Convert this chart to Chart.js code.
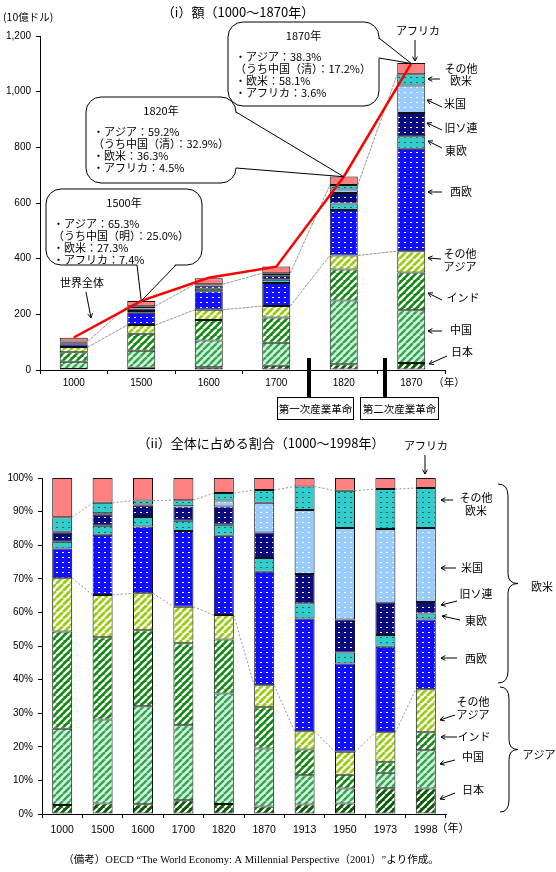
<!DOCTYPE html>
<html>
<head>
<meta charset="utf-8">
<script src="https://cdn.jsdelivr.net/npm/chart.js@4.4.0/dist/chart.umd.min.js"></script>
<style>
html, body { margin: 0; padding: 0; background: #fff; width: 556px; height: 872px; overflow: hidden; }
canvas { position: absolute; left: 0; }
#amountChart { top: 0; }
#shareChart { top: 430px; }
</style>
</head>
<body>
<canvas id="amountChart" width="556" height="425"></canvas>
<canvas id="shareChart" width="556" height="442"></canvas>
<script>
// ---- data ----
const yearsAmount = ['1000', '1500', '1600', '1700', '1820', '1870'];
const yearsShare = ['1000', '1500', '1600', '1700', '1820', '1870', '1913', '1950', '1973', '1998'];
const seriesNames = ['日本', '中国', 'インド', 'その他アジア', '西欧', '東欧', '旧ソ連', '米国', 'その他欧米', 'アフリカ'];

// (i) 額 (10億ドル)
const amtJapan      = [3.2, 7.7, 9.6, 15.4, 20.7, 25.4];
const amtChina      = [26.6, 61.8, 96.0, 82.8, 228.6, 189.7];
const amtIndia      = [33.8, 60.5, 74.3, 90.8, 111.4, 134.9];
const amtOtherAsia  = [18.6, 31.3, 36.7, 40.6, 50.7, 77.0];
const amtWEurope    = [10.2, 44.3, 66.0, 83.4, 163.7, 367.6];
const amtEEurope    = [2.0, 6.7, 9.3, 11.4, 23.1, 45.4];
const amtUssr       = [2.8, 8.5, 11.4, 16.2, 37.7, 83.6];
const amtUsa        = [0.5, 0.8, 0.6, 0.5, 12.5, 98.4];
const amtOtherWest  = [4.9, 7.6, 4.1, 6.6, 15.9, 40.5];
const amtAfrica     = [13.7, 18.4, 22.0, 24.4, 31.2, 40.2];
const amtWorld      = [116.8, 248.3, 331.3, 371.4, 694.4, 1101.4];

// (ii) 全体に占める割合 (%)
const shrJapan      = [2.7, 3.1, 2.9, 4.1, 3.0, 2.2, 2.8, 3.1, 7.7, 7.6];
const shrChina      = [22.7, 25.0, 29.2, 22.3, 32.9, 17.3, 8.7, 4.5, 4.6, 11.4];
const shrIndia      = [28.9, 24.5, 22.6, 24.4, 16.0, 12.3, 7.7, 4.1, 3.1, 5.3];
const shrOtherAsia  = [15.9, 12.6, 11.0, 10.9, 7.3, 6.5, 5.4, 6.8, 8.9, 12.8];
const shrWEurope    = [8.8, 17.9, 19.9, 22.5, 23.6, 33.8, 33.6, 26.3, 25.5, 20.8];
const shrEEurope    = [2.0, 2.7, 2.8, 3.1, 3.3, 4.1, 4.5, 3.3, 3.5, 1.8];
const shrUssr       = [2.7, 3.4, 3.5, 4.2, 5.4, 7.6, 8.7, 9.8, 9.6, 3.4];
const shrUsa        = [0.3, 0.3, 0.2, 0.1, 1.8, 8.8, 19.1, 27.2, 21.9, 22.0];
const shrOtherWest  = [4.3, 3.1, 1.2, 1.8, 2.2, 3.8, 7.0, 11.1, 11.9, 11.9];
const shrAfrica     = [11.7, 7.4, 6.7, 6.6, 4.5, 3.6, 2.5, 3.8, 3.3, 3.0];

const FONT_JP = '"Noto Sans CJK JP", "Noto Sans", sans-serif';
const FONT_NUM = '"Liberation Sans", Arial, sans-serif';
const FONT_SERIF = '"Liberation Serif", "Noto Sans CJK JP", serif';

// ---- fill patterns ----
function stripes(bg, fg, lw) {
  const s = 7;
  const c = document.createElement('canvas');
  c.width = s; c.height = s;
  const x = c.getContext('2d');
  x.fillStyle = bg;
  x.fillRect(0, 0, s, s);
  x.strokeStyle = fg;
  x.lineWidth = lw;
  x.beginPath();
  for (const o of [-s, 0, s]) { x.moveTo(o, s); x.lineTo(o + s, 0); }
  x.stroke();
  return x.createPattern(c, 'repeat');
}
function dots(bg, fg) {
  const c = document.createElement('canvas');
  c.width = 6; c.height = 5;
  const x = c.getContext('2d');
  x.fillStyle = bg;
  x.fillRect(0, 0, 6, 5);
  x.fillStyle = fg;
  x.fillRect(2, 2, 2, 1);
  return x.createPattern(c, 'repeat');
}

const fills = [
  stripes('#0a5a0a', '#ffffff', 2),     // 日本
  stripes('#ccffcc', '#3c9c64', 2.4),   // 中国
  stripes('#108a10', '#ffffff', 2.4),   // インド
  stripes('#ffffff', '#9acd10', 2.8),   // その他アジア
  dots('#1010ff', '#ffffff'),           // 西欧
  dots('#33cccc', '#0a6060'),           // 東欧
  dots('#0a0a80', '#ffffff'),           // 旧ソ連
  dots('#99ccff', '#ffffff'),           // 米国
  dots('#33cccc', '#0a6060'),           // その他欧米
  '#ff8080'                             // アフリカ
];

function barSets(arrays, pct) {
  return arrays.map((data, i) => ({
    label: seriesNames[i],
    data: data,
    backgroundColor: fills[i],
    borderColor: '#111',
    borderWidth: 1,
    borderSkipped: false,
    stack: 'regions',
    categoryPercentage: 1,
    barPercentage: pct
  }));
}

// ---- helpers for notes ----
function txt(ctx, s, x, y, align, size, family) {
  ctx.font = (size || 11) + 'px ' + (family || FONT_JP);
  ctx.textAlign = align || 'center';
  ctx.textBaseline = 'middle';
  ctx.fillStyle = '#000';
  ctx.fillText(s, x, y);
}
function arrow(ctx, x0, y0, x1, y1) {
  const a = Math.atan2(y1 - y0, x1 - x0), L = 5;
  ctx.beginPath();
  ctx.moveTo(x0, y0);
  ctx.lineTo(x1, y1);
  ctx.moveTo(x1 - L * Math.cos(a - 0.5), y1 - L * Math.sin(a - 0.5));
  ctx.lineTo(x1, y1);
  ctx.lineTo(x1 - L * Math.cos(a + 0.5), y1 - L * Math.sin(a + 0.5));
  ctx.stroke();
}
function roundRectPath(ctx, x, y, w, h, r) {
  ctx.beginPath();
  ctx.moveTo(x + r, y);
  ctx.arcTo(x + w, y, x + w, y + h, r);
  ctx.arcTo(x + w, y + h, x, y + h, r);
  ctx.arcTo(x, y + h, x, y, r);
  ctx.arcTo(x, y, x + w, y, r);
  ctx.closePath();
}
function callout(ctx, box, b1, b2, inward, tip, title, lines) {
  ctx.save();
  ctx.strokeStyle = '#000';
  ctx.lineWidth = 1;
  ctx.fillStyle = '#fff';
  roundRectPath(ctx, box.x, box.y, box.w, box.h, 15);
  ctx.fill();
  ctx.stroke();
  ctx.beginPath();
  ctx.moveTo(b1[0] + inward[0], b1[1] + inward[1]);
  ctx.lineTo(tip.x, tip.y);
  ctx.lineTo(b2[0] + inward[0], b2[1] + inward[1]);
  ctx.closePath();
  ctx.fill();
  ctx.beginPath();
  ctx.moveTo(b1[0], b1[1]);
  ctx.lineTo(tip.x, tip.y);
  ctx.lineTo(b2[0], b2[1]);
  ctx.stroke();
  txt(ctx, title, box.x + box.w / 2, box.y + 14, 'center', 11);
  lines.forEach((s, i) => txt(ctx, s, box.x + 7, box.y + 35 + i * 12, 'left', 11));
  ctx.restore();
}
function brace(ctx, x, y0, y1, w) {
  const m = (y0 + y1) / 2, r = w / 2;
  ctx.beginPath();
  ctx.moveTo(x, y0);
  ctx.quadraticCurveTo(x + r, y0, x + r, y0 + 12);
  ctx.lineTo(x + r, m - 10);
  ctx.quadraticCurveTo(x + r, m, x + w, m);
  ctx.quadraticCurveTo(x + r, m, x + r, m + 10);
  ctx.lineTo(x + r, y1 - 12);
  ctx.quadraticCurveTo(x + r, y1, x, y1);
  ctx.stroke();
}

// dotted lines joining the Asia / Europe boundary and the Africa boundary
const linkPlugin = {
  id: 'links',
  beforeDatasetsDraw(chart, args, opts) {
    const ctx = chart.ctx;
    ctx.save();
    ctx.strokeStyle = opts.color;
    ctx.lineWidth = opts.width;
    ctx.setLineDash(opts.dash);
    for (const d of opts.datasets) {
      const els = chart.getDatasetMeta(d).data;
      ctx.beginPath();
      for (let i = 0; i < els.length - 1; i++) {
        const a = els[i], b = els[i + 1];
        ctx.moveTo(a.x + a.width / 2, a.y);
        ctx.lineTo(b.x - b.width / 2, b.y);
      }
      ctx.stroke();
    }
    ctx.restore();
  }
};

function scaleOpts(extra) {
  return Object.assign({
    stacked: true,
    grid: { drawOnChartArea: false, tickLength: 4, color: '#000' },
    border: { color: '#000', width: 1 }
  }, extra);
}

// ---- (i) 額 ----
const notesTop = {
  id: 'notesTop',
  afterDraw(chart) {
    const ctx = chart.ctx;
    const tot = chart.getDatasetMeta(10).data;
    ctx.save();
    ctx.strokeStyle = '#000';
    ctx.lineWidth = 1;
    txt(ctx, '（i）額（1000～1870年）', 238, 12, 'center', 13);
    txt(ctx, '(10億ドル)', 3, 17, 'left', 10.5);
    txt(ctx, '（年）', 449, 382, 'center', 10.5);

    callout(ctx, { x: 46, y: 189, w: 156, h: 76 }, [137, 265], [176, 265], [0, -1.5], tot[1],
      '1500年', ['・アジア：65.3%', '（うち中国（明）：25.0%）', '・欧米：27.3%', '・アフリカ：7.4%']);
    callout(ctx, { x: 86, y: 97, w: 150, h: 86 }, [236, 112], [236, 168], [-1.5, 0], tot[4],
      '1820年', ['・アジア：59.2%', '（うち中国（清）：32.9%）', '・欧米：36.3%', '・アフリカ：4.5%']);
    callout(ctx, { x: 228, y: 22, w: 151, h: 84 }, [379, 38], [379, 58], [-1.5, 0], tot[5],
      '1870年', ['・アジア：38.3%', '（うち中国（清）：17.2%）', '・欧米：58.1%', '・アフリカ：3.6%']);

    txt(ctx, '世界全体', 82, 283, 'center', 11);
    arrow(ctx, 86, 292, 91, 318);
    txt(ctx, 'アフリカ', 418, 31, 'center', 11);
    arrow(ctx, 415, 40, 415, 61);

    const right = [
      [['その他', '欧米'], 461, [69, 81], [440, 79, 428, 79]],
      [['米国'], 455, [104], [442, 107, 427, 100]],
      [['旧ソ連'], 461, [128], [442, 130, 427, 123]],
      [['東欧'], 456, [151], [442, 148, 428, 141]],
      [['西欧'], 461, [192], [442, 192, 428, 192]],
      [['その他', 'アジア'], 460, [254, 267], [441, 259, 428, 258]],
      [['インド'], 463, [298], [442, 300, 428, 293]],
      [['中国'], 461, [330], [442, 331, 428, 331]],
      [['日本'], 462, [352], [447, 356, 429, 364]]
    ];
    for (const [lines, cx, ys, a] of right) {
      lines.forEach((s, i) => txt(ctx, s, cx, ys[i], 'center', 11));
      arrow(ctx, a[0], a[1], a[2], a[3]);
    }

    // industrial revolution markers
    ctx.lineWidth = 4;
    ctx.beginPath();
    ctx.moveTo(309, 358); ctx.lineTo(309, 397);
    ctx.moveTo(385, 358); ctx.lineTo(385, 397);
    ctx.stroke();
    ctx.lineWidth = 1;
    ctx.strokeRect(277.5, 397.5, 76, 22);
    ctx.strokeRect(360.5, 397.5, 78, 22);
    txt(ctx, '第一次産業革命', 315.5, 409, 'center', 10.5);
    txt(ctx, '第二次産業革命', 399.5, 409, 'center', 10.5);
    ctx.restore();
  }
};

new Chart(document.getElementById('amountChart'), {
  type: 'bar',
  data: {
    labels: yearsAmount,
    datasets: barSets([amtJapan, amtChina, amtIndia, amtOtherAsia, amtWEurope, amtEEurope,
      amtUssr, amtUsa, amtOtherWest, amtAfrica], 0.415).concat([{
      type: 'line',
      label: '世界全体',
      data: amtWorld,
      stack: 'world',
      order: -1,
      borderColor: '#ff0000',
      borderWidth: 2.5,
      pointRadius: 0,
      tension: 0,
      fill: false
    }])
  },
  options: {
    responsive: false,
    animation: false,
    layout: { padding: { top: 36, right: 111, left: 0, bottom: 0 } },
    scales: {
      x: scaleOpts({
        grid: { drawOnChartArea: false, tickLength: 4, color: '#000', offset: true },
        ticks: { color: '#000', padding: 3, font: { family: FONT_NUM, size: 10 } },
        afterFit(s) { s.height = 55; }
      }),
      y: scaleOpts({
        min: 0, max: 1200,
        ticks: { stepSize: 200, color: '#000', padding: 5, font: { family: FONT_NUM, size: 10 } },
        afterFit(s) { s.width = 40; }
      })
    },
    plugins: {
      legend: { display: false },
      tooltip: { enabled: false },
      links: { datasets: [3, 8], color: '#7a7a7a', width: 0.8, dash: [3, 1] }
    }
  },
  plugins: [linkPlugin, notesTop]
});

// ---- (ii) 全体に占める割合 ----
const notesBottom = {
  id: 'notesBottom',
  afterDraw(chart) {
    const ctx = chart.ctx;
    ctx.save();
    ctx.translate(0, -430);
    ctx.strokeStyle = '#000';
    ctx.lineWidth = 1;
    txt(ctx, '（ii）全体に占める割合（1000～1998年）', 261, 443, 'center', 13);
    txt(ctx, '（年）', 453, 828, 'center', 11);
    txt(ctx, 'アフリカ', 426, 446, 'center', 11);
    arrow(ctx, 425, 455, 425, 474);

    const right = [
      [['その他', '欧米'], 476, [498, 511], [453, 500, 441, 500]],
      [['米国'], 472, [568], [456, 568, 441, 568]],
      [['旧ソ連'], 476, [594], [457, 601, 441, 605]],
      [['東欧'], 476, [621], [460, 620, 442, 616]],
      [['西欧'], 476, [659], [457, 658, 441, 658]],
      [['その他', 'アジア'], 473, [702, 715], [455, 715, 440, 720]],
      [['インド'], 474, [737], [457, 737, 441, 737]],
      [['中国'], 473, [757], [455, 760, 440, 764]],
      [['日本'], 473, [790], [455, 793, 440, 799]]
    ];
    for (const [lines, cx, ys, a] of right) {
      lines.forEach((s, i) => txt(ctx, s, cx, ys[i], 'center', 11));
      arrow(ctx, a[0], a[1], a[2], a[3]);
    }
    brace(ctx, 498, 484, 683, 20);
    brace(ctx, 500, 687, 812, 18);
    txt(ctx, '欧米', 542, 587, 'center', 11);
    txt(ctx, 'アジア', 539, 755, 'center', 11);

    txt(ctx, '（備考）OECD “The World Economy: A Millennial Perspective（2001）”より作成。', 251, 860, 'center', 10.5, FONT_SERIF);
    ctx.restore();
  }
};

new Chart(document.getElementById('shareChart'), {
  type: 'bar',
  data: {
    labels: yearsShare,
    datasets: barSets([shrJapan, shrChina, shrIndia, shrOtherAsia, shrWEurope, shrEEurope,
      shrUssr, shrUsa, shrOtherWest, shrAfrica], 0.495)
  },
  options: {
    responsive: false,
    animation: false,
    layout: { padding: { top: 48, right: 110, left: 0, bottom: 0 } },
    scales: {
      x: scaleOpts({
        grid: { drawOnChartArea: false, tickLength: 4, color: '#000', offset: true },
        ticks: { color: '#000', padding: 6, font: { family: FONT_NUM, size: 10.5 } },
        afterFit(s) { s.height = 58; }
      }),
      y: scaleOpts({
        min: 0, max: 100,
        ticks: { stepSize: 10, color: '#000', padding: 5, font: { family: FONT_NUM, size: 10 },
          callback: v => v + '%' },
        afterFit(s) { s.width = 42; }
      })
    },
    plugins: {
      legend: { display: false },
      tooltip: { enabled: false },
      links: { datasets: [3, 8], color: '#7a7a7a', width: 0.8, dash: [2, 2] }
    }
  },
  plugins: [linkPlugin, notesBottom]
});
</script>
</body>
</html>
